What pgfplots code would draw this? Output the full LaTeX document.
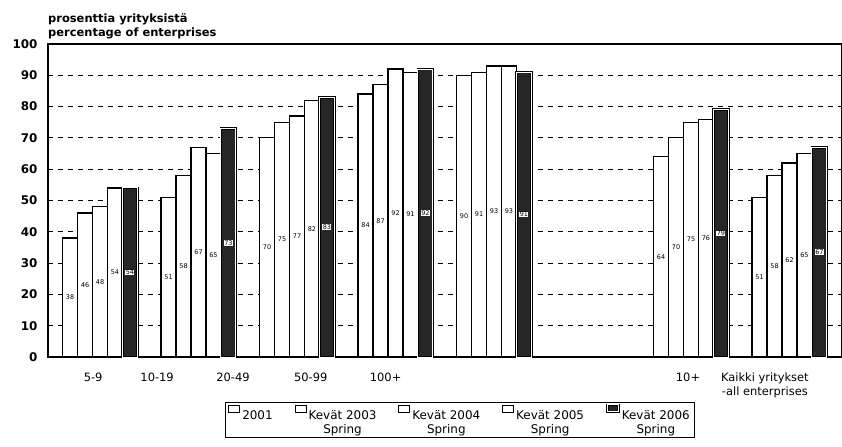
\documentclass[border=0pt]{standalone}
\usepackage{pgfplots}
\pgfplotsset{compat=1.18}
\usepackage{fontspec}
\setmainfont{DejaVu Sans}

\pgfplotstableread{
x y
0 38
1 51
2 70
3 84
4 90
6 64
7 51
}\sA
\pgfplotstableread{
x y
0 46
1 58
2 75
3 87
4 91
6 70
7 58
}\sB
\pgfplotstableread{
x y
0 48
1 67
2 77
3 92
4 93
6 75
7 62
}\sC
\pgfplotstableread{
x y
0 54
1 65
2 82
3 91
4 93
6 76
7 65
}\sD
\pgfplotstableread{
x y
0 54
1 73
2 83
3 92
4 91
6 79
7 67
}\sE

\begin{document}
\begin{tikzpicture}
\useasboundingbox (-48bp,-90bp) rectangle (794bp,357bp);
\begin{axis}[
  at={(0,0)}, anchor=south west,
  scale only axis,
  width=794bp, height=313bp,
  xmin=-0.528, xmax=7.533,
  ymin=0, ymax=100,
  ybar=0pt,
  bar width=0.152,
  ytick={0,10,...,100},
  xtick={-0.07,0.58,1.35,2.14,2.90,5.97,6.75},
  xticklabels={5-9,10-19,20-49,50-99,100+,10+,{Kaikki yritykset\\-all enterprises}},
  xticklabel style={align=center, yshift=-8bp, font=\fontsize{11.5}{14}\selectfont},
  yticklabel style={xshift=-7bp, font=\bfseries\fontsize{12}{13}\selectfont},
  /pgf/number format/assume math mode=true,
  tick style={draw=none},
  ymajorgrids,
  grid style={black, line width=1.1bp, dash pattern=on 5bp off 5bp},
  axis line style={black, line width=1.4bp},
  nodes near coords,
  visualization depends on=rawy \as \rawy,
  every node near coord/.append style={anchor=center,
     shift={(axis direction cs:0,-\rawy/2)},
     font=\fontsize{6.5}{7}\selectfont, fill=white, inner sep=0.4pt},
  legend style={at={(0.519,-0.144)}, anchor=north, draw=black, line width=1bp,
     font=\fontsize{12}{14}\selectfont, cells={align=center, anchor=north},
     legend columns=5, column sep=0bp, inner xsep=3bp, inner ysep=1bp,
     /tikz/every even column/.append style={column sep=20bp}},
  legend image code/.code={\draw[#1, line width=0.9bp] (0bp,-4bp) rectangle (11bp,3bp);},
]
\addplot[draw=black, fill=white, line width=1.2bp] table[x=x,y=y] {\sA};
\addplot[draw=black, fill=white, line width=1.2bp] table[x=x,y=y] {\sB};
\addplot[draw=black, fill=white, line width=1.2bp] table[x=x,y=y] {\sC};
\addplot[draw=black, fill=white, line width=1.2bp] table[x=x,y=y] {\sD};
\addplot[draw=black, fill=black!85, line width=0.8bp, double=white, double distance=1bp] table[x=x,y=y] {\sE};
\legend{2001,Kevät 2003\\Spring,Kevät 2004\\Spring,Kevät 2005\\Spring,Kevät 2006\\Spring}
\end{axis}
\node[anchor=south west, align=left, inner sep=0pt, font=\bfseries\fontsize{11.5}{14}\selectfont]
  at (0bp,318bp) {prosenttia yrityksistä\\percentage of enterprises};
\end{tikzpicture}
\end{document}
